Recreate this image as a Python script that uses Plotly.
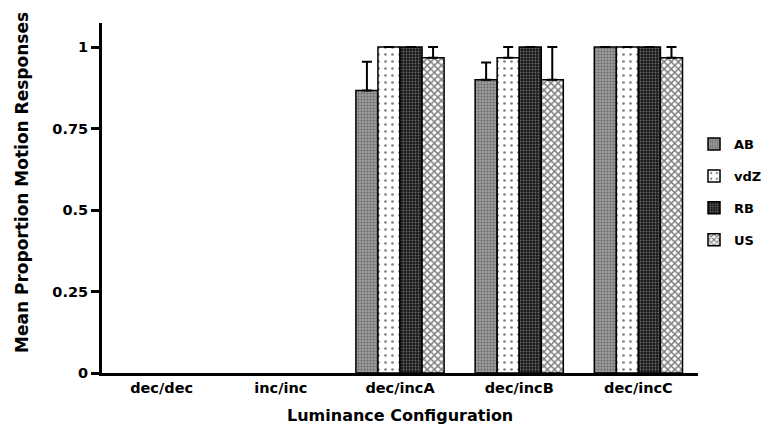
import plotly.graph_objects as go

categories = ["dec/dec", "inc/inc", "dec/incA", "dec/incB", "dec/incC"]
series_names = ["AB", "vdZ", "RB", "US"]
ab_vals = [0, 0, 0.867, 0.90, 1.0]
ab_err = [0, 0, 0.088, 0.053, 0]
vdz_vals = [0, 0, 1.0, 0.967, 1.0]
vdz_err = [0, 0, 0, 0.033, 0]
rb_vals = [0, 0, 1.0, 1.0, 1.0]
rb_err = [0, 0, 0, 0, 0]
us_vals = [0, 0, 0.967, 0.90, 0.967]
us_err = [0, 0, 0.033, 0.10, 0.033]
y_ticks = [0, 0.25, 0.5, 0.75, 1]
y_ticktext = ["0", "0.25", "0.5", "0.75", "1"]

FONT = "DejaVu Sans"

patterns = [
    dict(shape=".", size=3, solidity=0.5, fgcolor="#3a3a3a", bgcolor="#a8a8a8"),
    dict(shape=".", size=7, solidity=0.12, fgcolor="#000000", bgcolor="#ffffff"),
    dict(shape=".", size=3, solidity=0.3, fgcolor="#bbbbbb", bgcolor="#1a1a1a"),
    dict(shape="x", size=5, solidity=0.5, fgcolor="#000000", bgcolor="#ffffff"),
]

values = [ab_vals, vdz_vals, rb_vals, us_vals]
errors = [ab_err, vdz_err, rb_err, us_err]

# figure sits inside the page body (8px default margin)
W, H = 763, 419
ML, MR, MT, MB = 94, 73, 15, 54
plot_w = W - ML - MR
plot_h = H - MT - MB

fig = go.Figure()
for name, vals, err, pat in zip(series_names, values, errors, patterns):
    # zero-valued bars are invisible in the original; don't draw an outline for them
    shown = [v if v > 0 else None for v in vals]
    fig.add_trace(go.Bar(
        name=name, x=categories, y=shown,
        legendgroup=name,
        marker=dict(color="white", pattern=pat, line=dict(color="black", width=1.5)),
        error_y=dict(type="data", array=err, arrayminus=[0]*len(err), symmetric=False,
                     color="black", thickness=2, width=5),
    ))

fig.update_layout(
    width=W, height=H,
    margin=dict(l=ML, r=MR, t=MT, b=MB, autoexpand=False),
    paper_bgcolor="white", plot_bgcolor="white",
    barmode="group", bargap=0.26, bargroupgap=0,
    font=dict(family=FONT, size=14, color="black", weight="bold"),
    showlegend=True,
    legend=dict(x=0.9933, xanchor="left", y=0.697, yanchor="top",
                traceorder="grouped", tracegroupgap=12,
                font=dict(family=FONT, size=13, weight="bold"),
                bgcolor="rgba(0,0,0,0)"),
    xaxis=dict(showline=True, linecolor="black", linewidth=3, ticks="",
               showgrid=False, zeroline=False,
               tickfont=dict(family=FONT, size=14.5, weight="bold")),
    yaxis=dict(range=[0, 1.074], showline=True, linecolor="black", linewidth=3,
               ticks="outside", ticklen=8, tickwidth=3, tickcolor="black",
               tickvals=y_ticks, ticktext=y_ticktext, showgrid=False, zeroline=False,
               tickfont=dict(family=FONT, size=14.5, weight="bold")),
    annotations=[
        dict(text="Mean Proportion Motion Responses", textangle=-90,
             x=(14 - ML) / plot_w, xref="paper", xanchor="center",
             y=(H - MB - 175) / plot_h, yref="paper", yanchor="middle",
             showarrow=False, font=dict(family=FONT, size=17, weight="bold")),
        dict(text="Luminance Configuration",
             x=0.5, xref="paper", y=-(396 - (H - MB)) / plot_h, yref="paper", yanchor="top",
             showarrow=False, font=dict(family=FONT, size=16, weight="bold")),
    ],
)

fig.write_html("out.html")
